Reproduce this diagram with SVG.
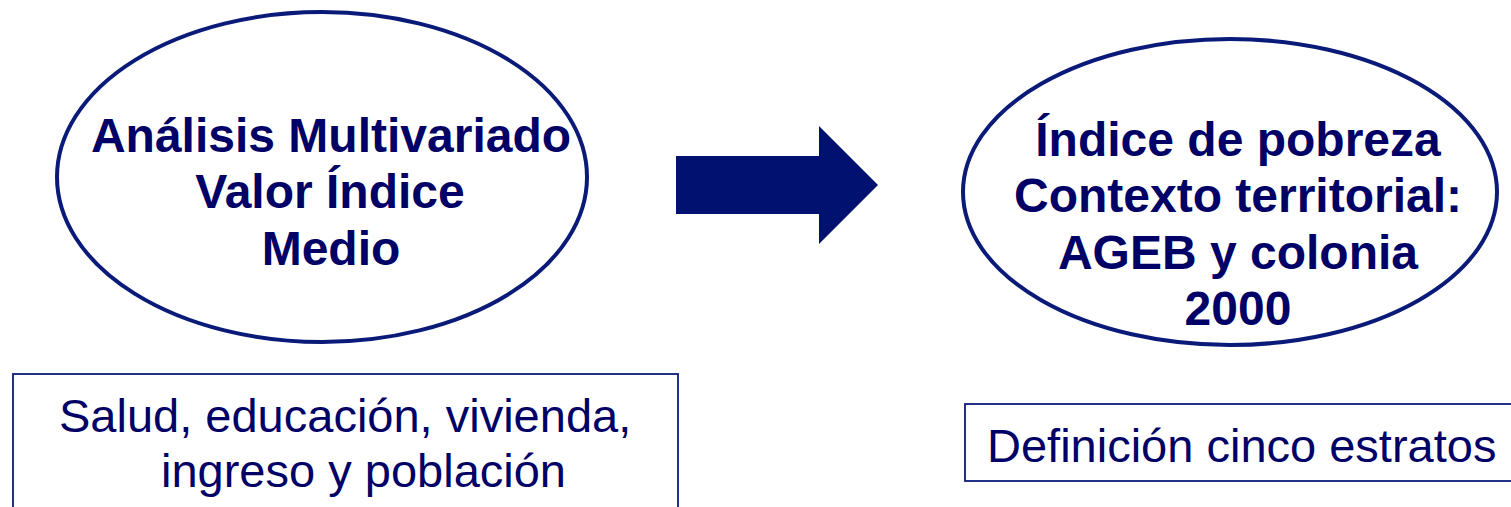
<svg xmlns="http://www.w3.org/2000/svg" width="1511" height="507" viewBox="0 0 1511 507">
<style>
.oval{fill:#ffffff;stroke:#0a1a78;stroke-width:4}
.box{fill:#ffffff;stroke:#0a1a78;stroke-width:1.8}
.bold{font-family:"Liberation Sans",Arial,sans-serif;font-weight:bold;font-size:48px;fill:#000066;text-anchor:middle}
.reg{font-family:"Liberation Sans",Arial,sans-serif;font-size:47px;fill:#000066}
</style>
<rect width="1511" height="507" fill="#ffffff"/>
<g id="node-analisis">
<ellipse class="oval" cx="322" cy="177" rx="265" ry="165"/>
<text class="bold" x="331" y="152">Análisis Multivariado</text>
<text class="bold" x="330" y="208">Valor Índice</text>
<text class="bold" x="331" y="265">Medio</text>
</g>
<g id="node-indice">
<ellipse class="oval" cx="1230" cy="192" rx="267" ry="153"/>
<text class="bold" x="1238" y="156">Índice de pobreza</text>
<text class="bold" x="1238" y="212">Contexto territorial:</text>
<text class="bold" x="1238" y="269">AGEB y colonia</text>
<text class="bold" x="1238" y="325">2000</text>
</g>
<g id="node-variables">
<rect class="box" x="13" y="374" width="665" height="150"/>
<text class="reg" x="59" y="432">Salud, educación, vivienda,</text>
<text class="reg" x="161" y="487">ingreso y población</text>
</g>
<g id="node-estratos">
<rect class="box" x="965" y="404" width="560" height="77"/>
<text class="reg" x="987" y="462">Definición cinco estratos</text>
</g>
<g id="connectors">
<polygon points="676,156 819,156 819,126 878,185 819,244 819,214 676,214" fill="#001170"/>
</g>
</svg>
